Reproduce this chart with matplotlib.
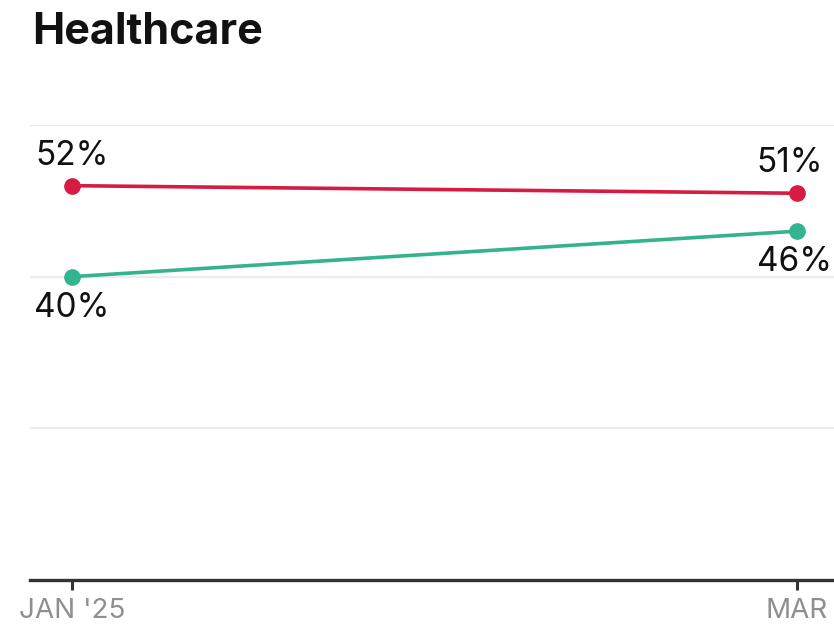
import matplotlib
matplotlib.use("Agg")
import matplotlib.pyplot as plt

plt.rcParams['font.family'] = ['Inter', 'DejaVu Sans']

title = "Healthcare"
categories = ["JAN '25", "MAR"]
red_values = [52, 51]
green_values = [40, 46]
y_ticks = [0, 20, 40, 60]

red_color = "#d81b43"
green_color = "#33b48e"

W, H = 834, 631
fig = plt.figure(figsize=(W / 100, H / 100), dpi=100)
ax_left, ax_right = 30, 834
ax_top, ax_bottom = 125, 580
ax = fig.add_axes([ax_left / W, (H - ax_bottom) / H, (ax_right - ax_left) / W, (ax_bottom - ax_top) / H])

x = list(range(len(categories)))
x0_px, x1_px = 72, 797
scale = (x1_px - x0_px) / (x[-1] - x[0])
ax.set_xlim(x[0] - (x0_px - ax_left) / scale, x[-1] + (ax_right - x1_px) / scale)
ax.set_ylim(0, 60)

for yt in y_ticks[1:]:
    ax.axhline(yt, color="#ececec", lw=1.6, zorder=0)

ax.plot(x, red_values, color=red_color, lw=2.6, marker='o', ms=11, zorder=3, solid_capstyle='round')
ax.plot(x, green_values, color=green_color, lw=2.6, marker='o', ms=11, zorder=3, solid_capstyle='round')

fs = 24
ax.annotate(f"{red_values[0]}%", (x[0], red_values[0]), xytext=(0, 10), textcoords='offset points',
            ha='center', va='bottom', fontsize=fs, color='#111111')
ax.annotate(f"{green_values[0]}%", (x[0], green_values[0]), xytext=(0, -11), textcoords='offset points',
            ha='center', va='top', fontsize=fs, color='#111111')
ax.annotate(f"{red_values[1]}%", (x[1], red_values[1]), xytext=(-5, 10), textcoords='offset points',
            ha='center', va='bottom', fontsize=fs, color='#111111')
ax.annotate(f"{green_values[1]}%", (x[1], green_values[1]), xytext=(-2, -11), textcoords='offset points',
            ha='center', va='top', fontsize=fs, color='#111111')

for s in ['top', 'right', 'left']:
    ax.spines[s].set_visible(False)
ax.spines['bottom'].set_color('#333333')
ax.spines['bottom'].set_linewidth(2.4)
ax.set_yticks([])
ax.set_xticks(x)
ax.set_xticklabels(categories, fontsize=20, color='#8f8f8f')
ax.tick_params(axis='x', length=7, width=2.2, color='#333333', pad=6)

fig.text(32 / W, 1 - 32 / H, title, fontsize=31, fontweight='bold', color='#111111',
         ha='left', va='center')

fig.savefig("out.png", dpi=100)
